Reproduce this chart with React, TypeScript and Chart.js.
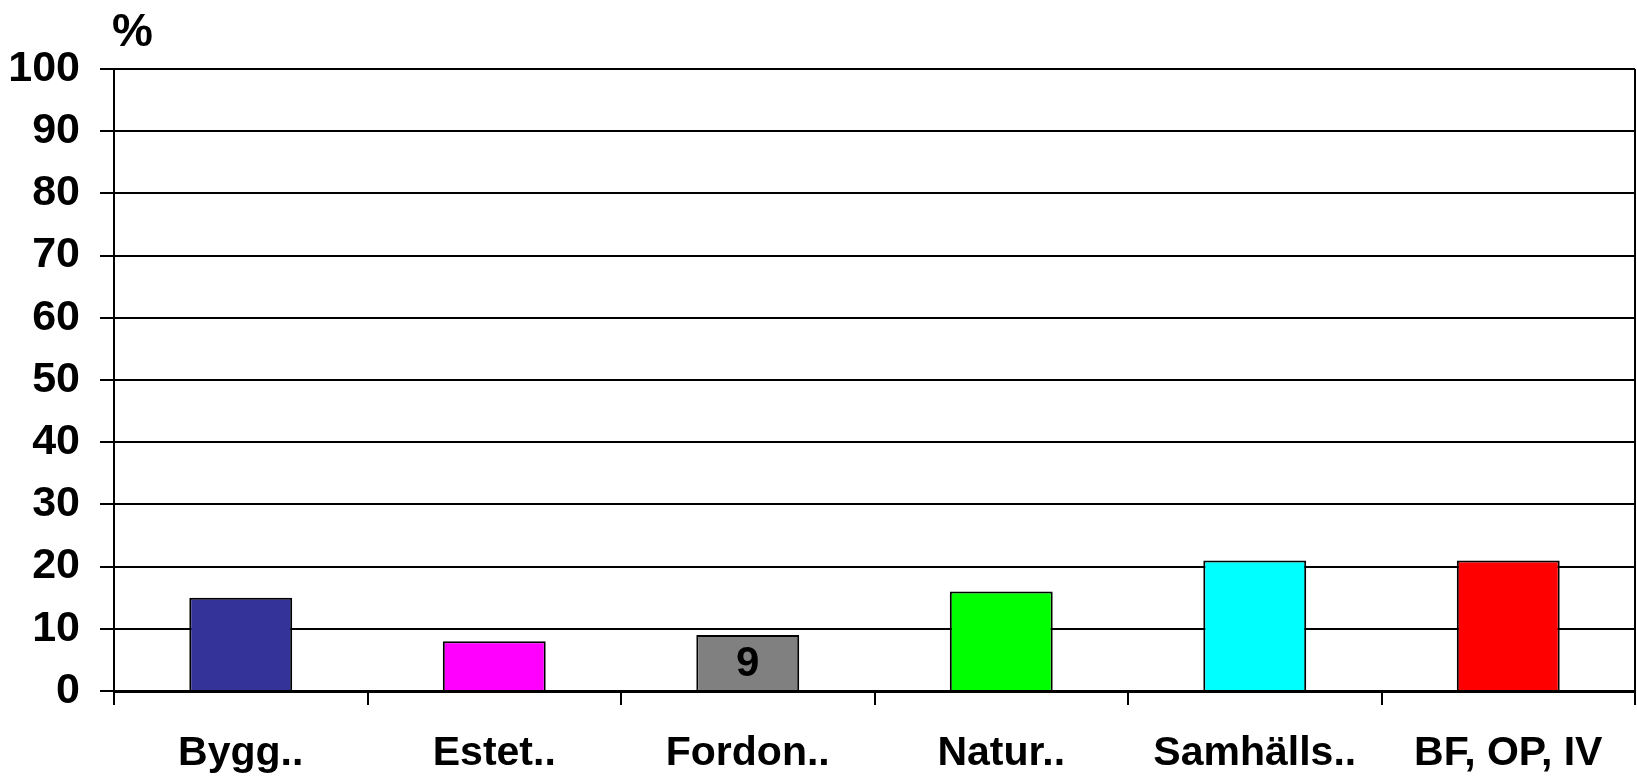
import React, { useEffect, useRef } from "react";
import { Chart, registerables } from "chart.js";

Chart.register(...registerables);

const categories = ["Bygg..", "Estet..", "Fordon..", "Natur..", "Samhälls..", "BF, OP, IV"];
const values = [15, 8, 9, 16, 21, 21];
const barColors = ["#333399", "#FF00FF", "#808080", "#00FF00", "#00FFFF", "#FF0000"];
const shownLabels = [null, null, "9", null, null, null];
const yTicks = [0, 10, 20, 30, 40, 50, 60, 70, 80, 90, 100];
const unitLabel = "%";

const FONT = "'Liberation Sans', Arial, sans-serif";

const overlayPlugin = {
  id: "overlay",
  afterDatasetsDraw(chart: any) {
    const ctx = chart.ctx;
    const area = chart.chartArea;
    ctx.save();
    ctx.fillStyle = "#000";
    ctx.font = `bold 46px ${FONT}`;
    ctx.textAlign = "left";
    ctx.textBaseline = "alphabetic";
    ctx.fillText(unitLabel, area.left - 2, 46);

    const meta = chart.getDatasetMeta(0);
    ctx.font = `bold 42px ${FONT}`;
    ctx.textAlign = "center";
    ctx.textBaseline = "middle";
    meta.data.forEach((bar: any, i: number) => {
      const lbl = shownLabels[i];
      if (lbl) {
        ctx.fillText(lbl, bar.x, (bar.y + bar.base) / 2 + 2);
      }
    });
    ctx.restore();
  },
};

export default function App() {
  const ref = useRef<HTMLCanvasElement | null>(null);

  useEffect(() => {
    document.body.style.margin = "0";
    if (!ref.current) return;
    const chart = new Chart(ref.current, {
      type: "bar",
      data: {
        labels: categories,
        datasets: [
          {
            data: values,
            backgroundColor: barColors,
            borderColor: "#000",
            borderWidth: 2,
            barPercentage: 0.406,
            categoryPercentage: 1,
          },
        ],
      },
      options: {
        animation: false,
        responsive: false,
        devicePixelRatio: 1,
        layout: { padding: { top: 69, right: 2, left: 0, bottom: 0 } },
        plugins: {
          legend: { display: false },
          tooltip: { enabled: false },
        },
        scales: {
          x: {
            offset: true,
            grid: {
              offset: true,
              drawOnChartArea: true,
              color: (c: any) =>
                c.type === "scale" || c.index === 0 ? "#000" : "rgba(0,0,0,0)",
              tickColor: "#000",
              tickLength: 14,
              lineWidth: 2,
            },
            border: { display: true, color: "#000", width: 3 },
            ticks: {
              color: "#000",
              font: { family: FONT, size: 41, weight: "bold" },
              padding: 24,
              maxRotation: 0,
              autoSkip: false,
            },
            afterFit: (s: any) => {
              s.height = 89;
            },
          },
          y: {
            min: 0,
            max: 100,
            afterBuildTicks: (s: any) => {
              s.ticks = yTicks.map((v) => ({ value: v }));
            },
            grid: {
              color: "#000",
              lineWidth: 2,
              tickLength: 14,
              tickColor: "#000",
            },
            border: { display: true, color: "#000", width: 2 },
            ticks: {
              color: "#000",
              font: { family: FONT, size: 43, weight: "bold" },
              padding: 20,
            },
            afterFit: (s: any) => {
              s.width = 114;
            },
          },
        },
      },
      plugins: [overlayPlugin],
    });
    return () => chart.destroy();
  }, []);

  return (
    <div style={{ width: 1637, height: 780 }}>
      <canvas ref={ref} width={1637} height={780} style={{ display: "block" }} />
    </div>
  );
}
